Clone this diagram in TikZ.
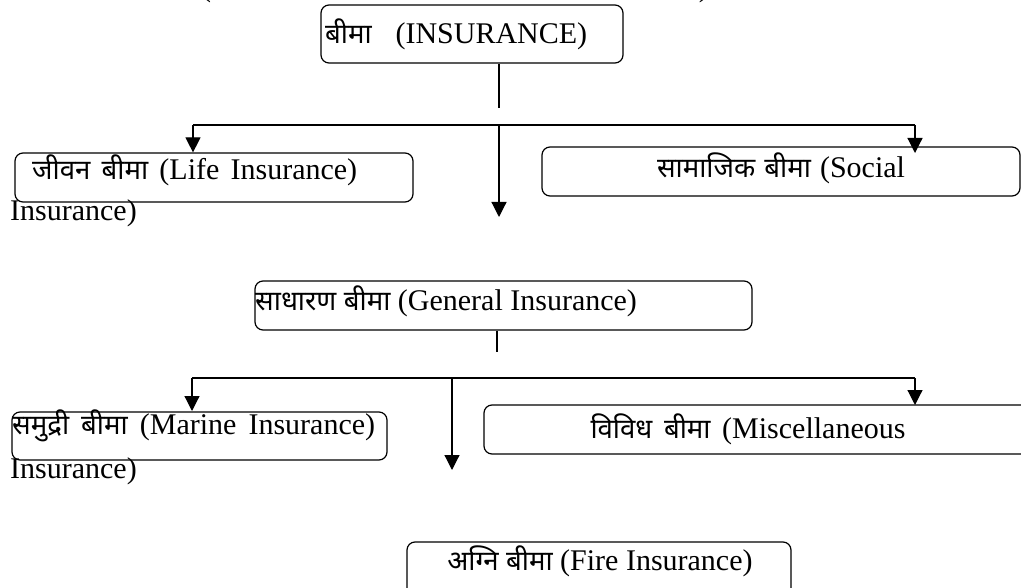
\documentclass[tikz,border=0pt]{standalone}
\usepackage{fontspec}
\setmainfont{Liberation Serif}
\newfontfamily\deva[Script=Devanagari,Scale=0.92]{Noto Sans}
\usetikzlibrary{arrows.meta}
\newcommand{\hi}[1]{{\deva #1}}
\newcommand{\jt}[2]{\makebox[#1][s]{#2}}
\begin{document}
\begin{tikzpicture}[x=1pt,y=-1pt,
  box/.style={draw, line width=1.2pt, rounded corners=8pt, inner sep=0pt},
  txt/.style={inner sep=0pt, font=\fontsize{30}{36}\selectfont},
  conn/.style={line width=1.2pt},
  arr/.style={conn, -{Triangle[width=15pt,length=15pt]}}]
\useasboundingbox (0,0) rectangle (1021,588);

% clipped fragments at the top edge
\node[txt, anchor=base west] (fragL) at (201,-3) {(};
\node[txt, anchor=base east] (fragR) at (709,-3) {)};

% boxes
\node[box, minimum width=302pt, minimum height=58pt] (ins) at (472,34) {};
\node[box, minimum width=398pt, minimum height=49pt] (life) at (214,177.5) {};
\node[box, minimum width=478pt, minimum height=49pt] (social) at (781,171.5) {};
\node[box, minimum width=497pt, minimum height=49pt] (gen) at (503.5,305.5) {};
\node[box, minimum width=375pt, minimum height=48pt] (marine) at (199.5,436) {};
\node[box, minimum width=551pt, minimum height=49pt] (misc) at (759.5,429.5) {};
\node[box, minimum width=384pt, minimum height=58pt] (fire) at (599,571) {};

% texts
\node[txt, anchor=base west] (insT) at (325,44) {\jt{262pt}{\hi{बीमा} (INSURANCE)}};
\node[txt, anchor=base west] (lifeT) at (32,180) {\jt{325pt}{\hi{जीवन} \hi{बीमा} (Life Insurance)}};
\node[txt, anchor=base west] (lifeT2) at (10,221) {Insurance)};
\node[txt, anchor=base] (socialT) at (781,178) {\jt{248pt}{\hi{सामाजिक} \hi{बीमा} (Social}};
\node[txt, anchor=base west] (genT) at (255,311) {\hi{साधारण} \hi{बीमा} (General Insurance)};
\node[txt, anchor=base west] (marineT) at (12,434) {\jt{363pt}{\hi{समुद्री} \hi{बीमा} (Marine Insurance)}};
\node[txt, anchor=base west] (marineT2) at (10,478) {Insurance)};
\node[txt, anchor=base] (miscT) at (748,438) {\jt{315pt}{\hi{विविध} \hi{बीमा} (Miscellaneous}};
\node[txt, anchor=base] (fireT) at (600,570) {\hi{अग्नि} \hi{बीमा} (Fire Insurance)};

% connector coordinates
\coordinate (s1) at (499,108);
\coordinate (b1L) at (193,125);
\coordinate (b1M) at (499,125);
\coordinate (b1R) at (915,125);
\coordinate (t1R) at (915,153);
\coordinate (t1M) at (499,217);
\coordinate (s2) at (497,352);
\coordinate (b2L) at (192,378);
\coordinate (b2M) at (452,378);
\coordinate (b2R) at (915,378);
\coordinate (t2L) at (192,411);
\coordinate (t2R) at (915,405);
\coordinate (t2M) at (452,470);

% connectors
\draw[conn] (ins.south -| s1) -- (s1);
\draw[conn] (b1L) -- (b1R);
\draw[arr] (b1L) -- (life.north -| b1L);
\draw[arr] (b1R) -- (t1R);
\draw[arr] (b1M) -- (t1M);
\draw[conn] (gen.south -| s2) -- (s2);
\draw[conn] (b2L) -- (b2R);
\draw[arr] (b2L) -- (t2L);
\draw[arr] (b2R) -- (t2R);
\draw[arr] (b2M) -- (t2M);
\end{tikzpicture}
\end{document}
